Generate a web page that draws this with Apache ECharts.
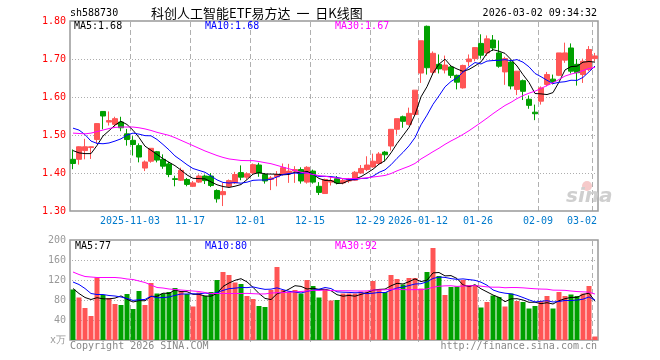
<!DOCTYPE html>
<html><head><meta charset="utf-8">
<script src="https://cdn.jsdelivr.net/npm/echarts@6/dist/echarts.min.js"></script>
<style>html,body{margin:0;padding:0;background:#fff}#c{width:660px;height:360px}</style>
</head><body><div id="c"></div>
<script>
const dates = [
 '2025-10-20','2025-10-21','2025-10-22','2025-10-23','2025-10-24','2025-10-27','2025-10-28','2025-10-29','2025-10-30','2025-10-31',
 '2025-11-03','2025-11-04','2025-11-05','2025-11-06','2025-11-07','2025-11-10','2025-11-11','2025-11-12','2025-11-13','2025-11-14',
 '2025-11-17','2025-11-18','2025-11-19','2025-11-20','2025-11-21','2025-11-24','2025-11-25','2025-11-26','2025-11-27','2025-11-28',
 '2025-12-01','2025-12-02','2025-12-03','2025-12-04','2025-12-05','2025-12-08','2025-12-09','2025-12-10','2025-12-11','2025-12-12',
 '2025-12-15','2025-12-16','2025-12-17','2025-12-18','2025-12-19','2025-12-22','2025-12-23','2025-12-24','2025-12-25','2025-12-26',
 '2025-12-29','2025-12-30','2025-12-31','2026-01-05','2026-01-06','2026-01-07','2026-01-08','2026-01-09',
 '2026-01-12','2026-01-13','2026-01-14','2026-01-15','2026-01-16','2026-01-19','2026-01-20','2026-01-21','2026-01-22','2026-01-23',
 '2026-01-26','2026-01-27','2026-01-28','2026-01-29','2026-01-30','2026-02-02','2026-02-03','2026-02-04','2026-02-05','2026-02-06',
 '2026-02-09','2026-02-10','2026-02-11','2026-02-12','2026-02-13','2026-02-24','2026-02-25','2026-02-26','2026-02-27','2026-03-02'
];
const opens = [
 1.436,1.436,1.459,1.467,1.488,1.562,1.534,1.528,1.534,1.503,
 1.486,1.472,1.413,1.431,1.456,1.436,1.424,1.385,1.381,1.383,
 1.365,1.376,1.392,1.392,1.354,1.343,1.365,1.374,1.401,1.389,
 1.400,1.421,1.396,1.383,1.390,1.396,1.398,1.405,1.409,1.376,
 1.405,1.365,1.346,1.376,1.385,1.374,1.379,1.381,1.400,1.409,
 1.416,1.425,1.455,1.471,1.515,1.548,1.528,1.554,1.663,1.786,
 1.665,1.686,1.671,1.679,1.657,1.624,1.693,1.701,1.741,1.716,
 1.750,1.716,1.666,1.692,1.620,1.643,1.594,1.560,1.589,1.633,
 1.647,1.657,1.697,1.729,1.686,1.659,1.672,1.701
];
const closes = [
 1.425,1.469,1.469,1.469,1.530,1.550,1.538,1.543,1.519,1.488,
 1.475,1.442,1.429,1.465,1.434,1.418,1.396,1.383,1.407,1.370,
 1.374,1.392,1.380,1.367,1.332,1.351,1.380,1.396,1.389,1.398,
 1.422,1.400,1.379,1.387,1.396,1.414,1.405,1.409,1.379,1.415,
 1.376,1.349,1.383,1.380,1.374,1.380,1.384,1.402,1.412,1.421,
 1.431,1.450,1.448,1.515,1.543,1.536,1.557,1.618,1.748,1.677,
 1.715,1.674,1.684,1.657,1.639,1.683,1.700,1.730,1.710,1.753,
 1.729,1.681,1.701,1.629,1.668,1.615,1.578,1.556,1.624,1.659,
 1.641,1.716,1.716,1.668,1.664,1.694,1.725,1.708
];
const lows = [
 1.410,1.422,1.436,1.437,1.477,1.515,1.525,1.522,1.510,1.472,
 1.446,1.428,1.405,1.427,1.428,1.411,1.389,1.365,1.379,1.365,
 1.363,1.374,1.371,1.363,1.322,1.313,1.363,1.371,1.381,1.383,
 1.399,1.390,1.372,1.355,1.365,1.393,1.374,1.374,1.372,1.372,
 1.372,1.342,1.345,1.367,1.370,1.370,1.374,1.380,1.399,1.405,
 1.414,1.422,1.431,1.459,1.501,1.519,1.525,1.551,1.637,1.659,
 1.659,1.662,1.662,1.650,1.620,1.622,1.681,1.694,1.701,1.708,
 1.721,1.677,1.632,1.620,1.605,1.592,1.569,1.539,1.580,1.628,
 1.633,1.655,1.690,1.662,1.630,1.637,1.668,1.694
];
const highs = [
 1.462,1.470,1.490,1.470,1.531,1.562,1.562,1.548,1.548,1.516,
 1.497,1.478,1.433,1.465,1.458,1.449,1.429,1.393,1.414,1.387,
 1.379,1.396,1.396,1.400,1.357,1.374,1.383,1.403,1.420,1.402,
 1.425,1.427,1.400,1.392,1.405,1.425,1.424,1.418,1.415,1.418,
 1.409,1.376,1.385,1.392,1.392,1.385,1.387,1.405,1.421,1.444,
 1.451,1.455,1.458,1.515,1.543,1.551,1.572,1.618,1.748,1.788,
 1.720,1.712,1.709,1.681,1.659,1.685,1.712,1.731,1.765,1.762,
 1.763,1.749,1.706,1.698,1.668,1.646,1.604,1.580,1.628,1.666,
 1.659,1.716,1.743,1.741,1.700,1.701,1.734,1.716
];
const volumes = [
 101,85,64,48,125,90,84,72,70,92,
 62,98,70,114,93,93,96,104,98,92,
 67,95,88,96,120,136,130,115,112,88,
 82,68,66,100,146,100,97,100,93,120,
 108,85,101,79,80,93,93,93,97,97,
 118,101,96,130,122,111,124,124,103,136,
 184,128,90,106,107,120,110,110,65,76,
 89,86,67,93,78,76,63,68,78,88,
 63,96,88,91,88,93,108,7
];
const ma5Head  = [1.459,1.453,1.451,1.451];
const ma10Head = [1.518,1.513,1.501,1.484,1.478,1.477,1.479,1.484,1.490];
const ma30Head = [1.505,1.504,1.503,1.505,1.509,1.513,1.517,1.520,1.521,1.521,
                  1.521,1.519,1.516,1.512,1.507,1.503,1.499,1.493,1.486,1.479,
                  1.472,1.465,1.458,1.452,1.446,1.441,1.437,1.435,1.433];
const vma5Head  = [103,93,85,81];
const vma10Head = [116,111,103,93,91,91,89,88,86];
const vma30Head = [136,131,127,126,125,125,125,125,124,122,
                   121,118,115,110,105,104,102,101,100,99,
                   98,97,95,93,93,93,93,93,93];
const tickDates  = ['2025-11-03','2025-11-17','2025-12-01','2025-12-15','2025-12-29','2026-01-12','2026-01-26','2026-02-09','2026-03-02'];
const tickLabels = ['2025-11-03','11-17','12-01','12-15','12-29','2026-01-12','01-26','02-09','03-02'];
const priceTicks = [1.30,1.40,1.50,1.60,1.70,1.80];
const volTicks = [0,40,80,120,160,200];
const volUnit = 'x万';
const headerCode = 'sh588730';
const headerTitle = '科创人工智能ETF易方达  一  日K线图';
const headerTime = '2026-03-02 09:34:32';
const maLabels = ['MA5:1.68','MA10:1.68','MA30:1.67'];
const vmaLabels = ['MA5:77','MA10:80','MA30:92'];

function movingAvg(arr, n, head) {
  return arr.map((v, i) => {
    if (i < n - 1) return head[i];
    let s = 0; for (let k = i - n + 1; k <= i; k++) s += arr[k];
    return +(s / n).toFixed(4);
  });
}
const RED = '#ff5555', GREEN = '#00a000';
const MONO = '"DejaVu Sans Mono", "Liberation Mono", monospace';
const tickSet = new Set(tickDates);
const labelFor = {}; tickDates.forEach((d, i) => labelFor[d] = tickLabels[i]);
const tickIdx = tickDates.map(d => dates.indexOf(d));

const kData = dates.map((d, i) => [opens[i], closes[i], lows[i], highs[i]]);
const volData = volumes.map((v, i) => ({ value: v, itemStyle: { color: closes[i] >= opens[i] ? RED : GREEN } }));

const chart = echarts.init(document.getElementById('c'), null, { renderer: 'canvas' });
const gridW = 528, mainH = 190, volH = 100;
const N = dates.length;
const lineS = (name, data, color, xi, yi) => ({
  name, type: 'line', data, xAxisIndex: xi, yAxisIndex: yi, showSymbol: false, symbol: 'none',
  lineStyle: { width: 1, color }, itemStyle: { color }, silent: true, z: 3
});
const xPerPx = N / gridW;
function dotSeries(xi, yi, levels) {           // dotted horizontal grid lines
  const pts = [];
  levels.forEach(v => { for (let x = -0.5 + 2 * xPerPx; x < N - 0.5 - xPerPx; x += 3 * xPerPx) pts.push([x, v]); });
  return { type: 'scatter', xAxisIndex: xi, yAxisIndex: yi, data: pts, symbol: 'rect', symbolSize: [1, 1],
    symbolOffset: [0.5, 0.5], itemStyle: { color: '#999999' }, silent: true, z: 1, animation: false, large: false };
}
function dashSeries(xi, yi, lo, hi, heightPx) { // dashed vertical separators at labelled dates
  const yPerPx = (hi - lo) / heightPx;
  const pts = [];
  tickIdx.forEach(i => { for (let y = hi - 3.5 * yPerPx; y > lo; y -= 8 * yPerPx) pts.push([i - 0.5, y]); });
  return { type: 'scatter', xAxisIndex: xi, yAxisIndex: yi, data: pts, symbol: 'rect', symbolSize: [1, 5],
    symbolOffset: [0.5, 0], itemStyle: { color: '#9c9c9c' }, silent: true, z: 1, animation: false, large: false };
}
function txt(text, x, y, color, align, font) {
  return { type: 'text', x: 0, y: 0, silent: true, z: 100, style: {
    text, x, y, fill: color, font: font || ('10px ' + MONO),
    align: align || 'left', textAlign: align || 'left', verticalAlign: 'middle', textVerticalAlign: 'middle' } };
}

const option = {
  animation: false,
  backgroundColor: '#fff',
  grid: [
    { left: 70, top: 21, width: gridW, height: mainH, show: true, borderColor: '#999', borderWidth: 1.5, backgroundColor: 'transparent' },
    { left: 70, top: 240, width: gridW, height: volH, show: true, borderColor: '#999', borderWidth: 1.5, backgroundColor: 'transparent' }
  ],
  xAxis: [
    { type: 'category', data: dates, gridIndex: 0, boundaryGap: true,
      axisLine: { show: false }, axisTick: { show: false },
      axisLabel: { interval: (idx, val) => tickSet.has(val), margin: 5,
        formatter: (val) => (val === dates[dates.length - 1] ? '{r|' : '{c|') + labelFor[val] + '}',
        rich: {
          c: { color: '#007acc', fontFamily: MONO, fontSize: 10, padding: [0, 6, 0, 0] },
          r: { color: '#007acc', fontFamily: MONO, fontSize: 10, padding: [0, 26, 0, 0] }
        } },
      splitLine: { show: false } },
    { type: 'category', data: dates, gridIndex: 1, boundaryGap: true,
      axisLine: { show: false }, axisTick: { show: false }, axisLabel: { show: false },
      splitLine: { show: false } },
    { type: 'value', gridIndex: 0, min: -0.5, max: N - 0.5, show: false, splitLine: { show: false } },
    { type: 'value', gridIndex: 1, min: -0.5, max: N - 0.5, show: false, splitLine: { show: false } }
  ],
  yAxis: [
    { type: 'value', gridIndex: 0, min: priceTicks[0], max: priceTicks[priceTicks.length - 1], interval: 0.1,
      axisLine: { show: false }, axisTick: { show: false },
      axisLabel: { color: '#ff0000', fontFamily: MONO, fontSize: 10, margin: 4, formatter: v => (+v).toFixed(2) },
      splitLine: { show: false } },
    { type: 'value', gridIndex: 1, min: volTicks[0], max: volTicks[volTicks.length - 1], interval: 40,
      axisLine: { show: false }, axisTick: { show: false },
      axisLabel: { color: '#999', fontFamily: MONO, fontSize: 10, margin: 4, formatter: v => v === 0 ? volUnit : String(v) },
      splitLine: { show: false } }
  ],
  series: [
    dotSeries(2, 0, priceTicks.slice(1, -1)),
    dotSeries(3, 1, volTicks.slice(1, -1)),
    dashSeries(2, 0, priceTicks[0], priceTicks[priceTicks.length - 1], mainH),
    dashSeries(3, 1, volTicks[0], volTicks[volTicks.length - 1], volH),
    { type: 'candlestick', data: kData, xAxisIndex: 0, yAxisIndex: 0, barWidth: 5, z: 2,
      itemStyle: { color: RED, color0: GREEN, borderColor: RED, borderColor0: GREEN, borderWidth: 1 } },
    lineS('MA5', movingAvg(closes, 5, ma5Head), '#000000', 0, 0),
    lineS('MA10', movingAvg(closes, 10, ma10Head), '#0000ff', 0, 0),
    lineS('MA30', movingAvg(closes, 30, ma30Head), '#ff00ff', 0, 0),
    { type: 'bar', data: volData, xAxisIndex: 1, yAxisIndex: 1, barWidth: 5, z: 2 },
    lineS('VMA5', movingAvg(volumes, 5, vma5Head), '#000000', 1, 1),
    lineS('VMA10', movingAvg(volumes, 10, vma10Head), '#0000ff', 1, 1),
    lineS('VMA30', movingAvg(volumes, 30, vma30Head), '#ff00ff', 1, 1)
  ],
  graphic: [
    txt(headerCode, 70, 13, '#000'),
    txt(headerTitle, 151, 13, '#000', 'left', '13px "Noto Sans CJK SC", sans-serif'),
    txt(headerTime, 597, 13, '#000', 'right'),
    txt(maLabels[0], 74, 26.5, '#000'),
    txt(maLabels[1], 205, 26.5, '#0000ff'),
    txt(maLabels[2], 335, 26.5, '#ff00ff'),
    txt(vmaLabels[0], 75, 246, '#000'),
    txt(vmaLabels[1], 205, 246, '#0000ff'),
    txt(vmaLabels[2], 335, 246, '#ff00ff'),
    txt('Copyright 2026 SINA.COM', 70, 346, '#888'),
    txt('http://finance.sina.com.cn', 597, 346, '#888', 'right'),
    { type: 'circle', silent: true, z: 1, shape: { cx: 587, cy: 186, r: 5 }, style: { fill: '#f6caca' } },
    txt('sina', 566, 197, '#cfcfcf', 'left', 'italic bold 20px "DejaVu Sans", sans-serif')
  ]
};
chart.setOption(option);
</script>
</body></html>
